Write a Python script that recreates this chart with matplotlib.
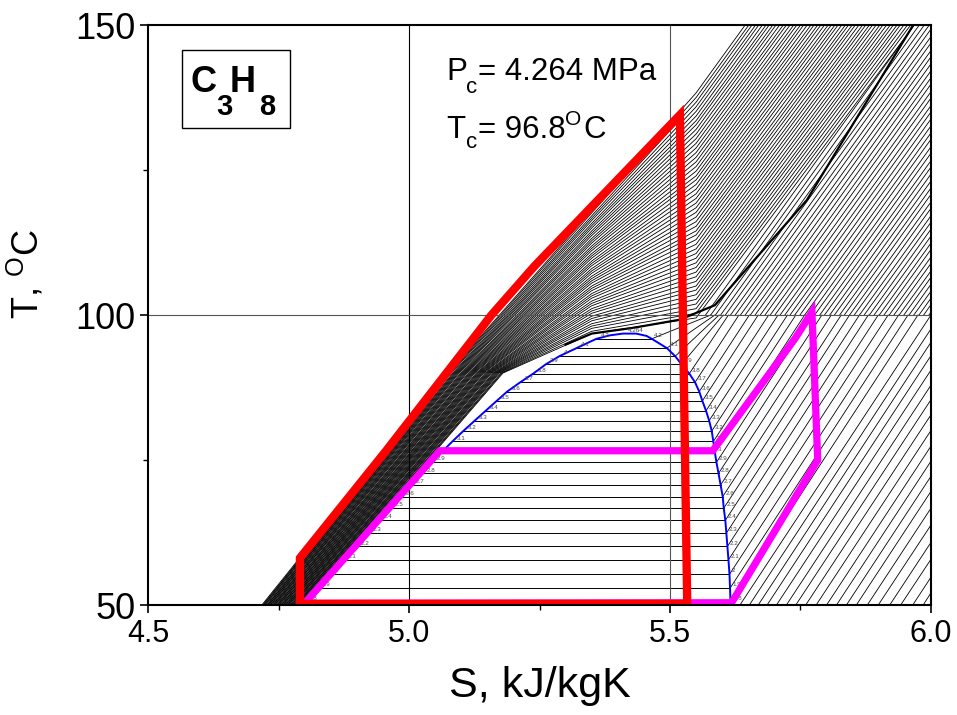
import numpy as np
import matplotlib
matplotlib.use('Agg')
import matplotlib.pyplot as plt
from matplotlib.ticker import MultipleLocator
from matplotlib.patches import Rectangle

plt.rcParams['font.family'] = ['Liberation Sans', 'DejaVu Sans']
plt.rcParams['mathtext.fontset'] = 'custom'
plt.rcParams['mathtext.rm'] = 'Liberation Sans'
plt.rcParams['mathtext.it'] = 'Liberation Sans'
plt.rcParams['mathtext.bf'] = 'Liberation Sans:bold'

# ---- saturation dome (pressure label, T, s liquid, s vapour) ----
sat_P = ['1.8', '1.9', '2', '2.1', '2.2', '2.3', '2.4', '2.5', '2.6', '2.7',
         '2.8', '2.9', '3', '3.1', '3.2', '3.3', '3.4', '3.5', '3.6', '3.7',
         '3.8', '3.9', '4', '4.1', '4.2']
sat_T = [50.5, 52.9, 55.3, 57.8, 60.1, 62.4, 64.6, 66.7, 68.7, 70.7,
         72.7, 74.6, 76.3, 78.2, 80.0, 81.8, 83.5, 85.2, 86.8, 88.4,
         89.9, 91.5, 92.9, 94.3, 95.9]
sat_sl = [4.800, 4.825, 4.850, 4.875, 4.900, 4.922, 4.944, 4.965, 4.985, 5.005,
          5.025, 5.044, 5.062, 5.083, 5.104, 5.126, 5.147, 5.168, 5.188, 5.213,
          5.238, 5.262, 5.288, 5.321, 5.359]
sat_sv = [5.616, 5.615, 5.614, 5.612, 5.610, 5.608, 5.606, 5.603, 5.601, 5.597,
          5.593, 5.589, 5.586, 5.583, 5.580, 5.575, 5.569, 5.562, 5.556, 5.548,
          5.537, 5.522, 5.510, 5.494, 5.465]
dome_top_s = [5.385, 5.410, 5.435, 5.455]
dome_top_T = [96.5, 96.8, 96.8, 96.4]
crit_label = '4.264'

# ---- low pressure vapour isobars: start on T=50, end on s=6.0 ----
v1_s_start = [5.634, 5.652, 5.669, 5.686, 5.704, 5.723, 5.741, 5.760, 5.780, 5.800,
              5.819, 5.838, 5.857, 5.878, 5.899, 5.921, 5.942, 5.965, 5.985]
v1_T_end = [100.0, 97.6, 95.3, 93.0, 90.5, 87.9, 85.4, 82.8, 80.1, 77.4,
            74.8, 72.2, 69.6, 66.7, 63.8, 60.8, 57.9, 54.8, 52.1]

# ---- vapour isobars leaving the dome, s where they reach T=100 ----
v2_s100 = [5.975, 5.956, 5.938, 5.918, 5.899, 5.880, 5.863, 5.844, 5.828, 5.809,
           5.791, 5.773, 5.758, 5.741, 5.725, 5.707, 5.689, 5.669, 5.652, 5.632,
           5.612, 5.602, 5.594, 5.586, 5.578]

# ---- isobars above 100 C: s at T=100, T at s=6.0 ----
b_s100 = [5.568, 5.578, 5.587, 5.597, 5.606, 5.616, 5.625, 5.635, 5.644, 5.654,
          5.663, 5.673, 5.682, 5.692, 5.701, 5.711, 5.720, 5.730, 5.739, 5.749,
          5.758, 5.768, 5.777, 5.787, 5.796, 5.806, 5.815, 5.825, 5.834, 5.844,
          5.853, 5.863, 5.872, 5.882, 5.891, 5.901, 5.910, 5.920, 5.929, 5.939,
          5.948, 5.958, 5.967, 5.977, 5.986, 5.996]
b_T600 = [154.0, 152.8, 151.6, 150.4, 149.3, 148.0, 146.9, 145.6, 144.5, 143.3,
          142.1, 140.9, 139.8, 138.5, 137.4, 136.1, 135.0, 133.8, 132.6, 131.4,
          130.3, 129.0, 127.9, 126.6, 125.5, 124.3, 123.1, 121.9, 120.8, 119.5,
          118.4, 117.1, 116.0, 114.8, 113.6, 112.4, 111.3, 110.0, 108.9, 107.6,
          106.5, 105.3, 104.1, 102.9, 101.8, 100.5]

# ---- supercritical isobars, outer (high P) to inner ----
sc_s50 = [4.718, 4.720, 4.721, 4.723, 4.724, 4.726, 4.728, 4.729, 4.731, 4.732,
          4.734, 4.735, 4.737, 4.739, 4.740, 4.742, 4.743, 4.745, 4.747, 4.748,
          4.750, 4.751, 4.753, 4.755, 4.756, 4.758, 4.759, 4.761, 4.763, 4.764,
          4.766, 4.767, 4.769, 4.770, 4.772, 4.774, 4.775, 4.777, 4.778, 4.780,
          4.782, 4.783, 4.785, 4.786, 4.788, 4.790, 4.791, 4.793, 4.794, 4.796]
sc_s90 = [5.075, 5.077, 5.079, 5.081, 5.084, 5.086, 5.088, 5.090, 5.092, 5.094,
          5.096, 5.099, 5.101, 5.103, 5.105, 5.107, 5.109, 5.111, 5.114, 5.116,
          5.118, 5.120, 5.122, 5.124, 5.126, 5.129, 5.131, 5.133, 5.135, 5.137,
          5.139, 5.141, 5.143, 5.146, 5.148, 5.150, 5.152, 5.154, 5.156, 5.158,
          5.161, 5.163, 5.165, 5.167, 5.169, 5.171, 5.173, 5.176, 5.178, 5.180]
sc_T535 = [118.0, 117.6, 117.1, 116.7, 116.3, 115.8, 115.4, 115.0, 114.5, 114.1,
           113.7, 113.2, 112.8, 112.4, 111.9, 111.5, 111.1, 110.6, 110.2, 109.8,
           109.3, 108.9, 108.5, 108.0, 107.6, 107.2, 106.7, 106.3, 105.9, 105.5,
           105.0, 104.6, 104.2, 103.7, 103.3, 102.9, 102.4, 102.0, 101.6, 101.1,
           100.7, 100.3, 99.8, 99.4, 99.0, 98.5, 98.1, 97.7, 97.2, 96.8]
sc_T555 = [138.3, 137.5, 136.7, 135.9, 135.1, 134.3, 133.5, 132.8, 132.0, 131.2,
           130.4, 129.6, 128.8, 128.0, 127.2, 126.4, 125.6, 124.8, 124.0, 123.3,
           122.5, 121.7, 120.9, 120.1, 119.3, 118.5, 117.7, 116.9, 116.1, 115.3,
           114.5, 113.8, 113.0, 112.2, 111.4, 110.6, 109.8, 109.0, 108.2, 107.4,
           106.6, 105.8, 105.0, 104.3, 103.5, 102.7, 101.9, 101.1, 100.3, 99.5]
sc_s150 = [5.644, 5.651, 5.657, 5.664, 5.670, 5.677, 5.684, 5.690, 5.697, 5.703,
           5.710, 5.717, 5.723, 5.730, 5.737, 5.743, 5.750, 5.756, 5.763, 5.770,
           5.776, 5.783, 5.789, 5.796, 5.803, 5.809, 5.816, 5.822, 5.829, 5.836,
           5.842, 5.849, 5.855, 5.862, 5.869, 5.875, 5.882, 5.888, 5.895, 5.902,
           5.908, 5.915, 5.922, 5.928, 5.935, 5.941, 5.948, 5.955, 5.961, 5.968]

# ---- critical isobar (thick) ----
crit_s = [5.300, 5.350, 5.430, 5.519, 5.586, 5.762, 5.966]
crit_T = [94.9, 96.8, 97.8, 99.2, 101.7, 119.8, 150.0]

# ---- cycles ----
red_s = [4.791, 4.791, 4.957, 5.158, 5.240, 5.519, 5.533, 4.791]
red_T = [50.2, 58.1, 76.7, 100.0, 108.4, 134.5, 50.2, 50.2]
mag_s = [4.800, 5.059, 5.582, 5.740, 5.772, 5.783, 5.618, 4.800]
mag_T = [50.3, 76.6, 76.6, 96.0, 100.5, 75.0, 50.4, 50.3]


def px(x, y):
    # figure pixel position -> axes fraction
    return (x - 148.0) / 783.0, (605.0 - y) / 580.0


def main():
    fig = plt.figure(figsize=(9.57, 7.15), dpi=100)
    ax = fig.add_axes([0.1547, 0.1538, 0.8181, 0.8112])
    thin = dict(color='k', lw=0.6, zorder=2)

    for s0, t1 in zip(v1_s_start, v1_T_end):
        ax.plot([s0, 6.0], [50.0, t1], **thin)

    for sv, ts, s1 in zip(sat_sv, sat_T, v2_s100):
        ax.plot([sv, s1], [ts, 100.0], **thin)

    for s0, t1 in zip(b_s100, b_T600):
        ax.plot([s0, 6.0], [100.0, t1], **thin)

    for i in range(len(sc_s50)):
        ss = [sc_s50[i], sc_s90[i], 5.35, 5.55, sc_s150[i]]
        tt = [50.0, 90.0, sc_T535[i], sc_T555[i], 150.0]
        ax.plot(ss, tt, **thin)

    ax.plot(crit_s, crit_T, color='k', lw=1.6, zorder=4)

    # two-phase horizontals and their labels
    for p, t, sl, sv in zip(sat_P, sat_T, sat_sl, sat_sv):
        ax.plot([sl, sv], [t, t], color='k', lw=0.7, zorder=2)
        ax.text(sl + 0.008, t + 0.15, p, fontsize=4.5, color='#444444',
                ha='left', va='bottom', zorder=5)
        ax.text(sv + 0.005, t + 0.15, p, fontsize=4.5, color='#444444',
                ha='left', va='bottom', zorder=5)
    ax.text(dome_top_s[2], dome_top_T[2] + 0.1, crit_label, fontsize=4.5,
            color='#444444', ha='center', va='bottom', zorder=5)

    dome_s = sat_sl + dome_top_s + sat_sv[::-1]
    dome_T = sat_T + dome_top_T + sat_T[::-1]
    ax.plot(dome_s, dome_T, color='#0000ff', lw=1.4, zorder=4)

    # grid lines at the inner major ticks
    ax.axvline(5.0, color='k', lw=0.8, zorder=3)
    ax.axvline(5.5, color='#555555', lw=0.8, zorder=3)
    ax.axhline(100, color='#555555', lw=0.8, zorder=3)

    ax.plot(mag_s, mag_T, color='#ff00ff', lw=5.2, zorder=6,
            solid_joinstyle='miter')
    ax.plot(red_s, red_T, color='#ff0000', lw=6.0, zorder=7,
            solid_joinstyle='miter')

    ax.set_xlim(4.5, 6.0)
    ax.set_ylim(50, 150)
    ax.xaxis.set_major_locator(MultipleLocator(0.5))
    ax.xaxis.set_minor_locator(MultipleLocator(0.25))
    ax.yaxis.set_major_locator(MultipleLocator(50))
    ax.yaxis.set_minor_locator(MultipleLocator(25))
    ax.xaxis.set_major_formatter(plt.FormatStrFormatter('%.1f'))
    ax.tick_params(which='major', direction='out', length=6, width=1.2, pad=4)
    ax.tick_params(axis='x', which='major', labelsize=22)
    ax.tick_params(axis='y', which='major', labelsize=26, pad=3)
    ax.tick_params(which='minor', direction='out', length=3.5, width=1.0)
    for sp in ax.spines.values():
        sp.set_linewidth(1.5)
        sp.set_zorder(10)

    ax.set_xlabel('S, kJ/kgK', fontsize=31, labelpad=12)
    ax.set_ylabel(r'T, $^{\mathrm{O}}$C', fontsize=26)
    ax.yaxis.set_label_coords(-0.13, 0.57)

    # formula box
    x0, y0 = px(182, 128)
    x1, y1 = px(290, 50)
    ax.add_patch(Rectangle((x0, y0), x1 - x0, y1 - y0, transform=ax.transAxes,
                           fc='white', ec='black', lw=1.0, zorder=11))
    nb = dict(transform=ax.transAxes, fontweight='bold', va='baseline',
              ha='left', zorder=12)
    ax.text(*px(190, 92), 'C', fontsize=26, **nb)
    ax.text(*px(216, 115), '3', fontsize=21, **nb)
    ax.text(*px(230, 92), 'H', fontsize=26, **nb)
    ax.text(*px(259, 115), '8', fontsize=21, **nb)

    tx = dict(transform=ax.transAxes, va='baseline', ha='left', zorder=12)
    ax.text(*px(446, 80), 'P', fontsize=22.5, **tx)
    ax.text(*px(466, 93), 'c', fontsize=16, **tx)
    ax.text(*px(478, 80), '= 4.264 MPa', fontsize=22.5, **tx)
    ax.text(*px(446, 138), 'T', fontsize=22.5, **tx)
    ax.text(*px(466, 148), 'c', fontsize=16, **tx)
    ax.text(*px(478, 138), '= 96.8', fontsize=22.5, **tx)
    ax.text(*px(565, 125), 'O', fontsize=15, **tx)
    ax.text(*px(583, 138), 'C', fontsize=22.5, **tx)

    fig.savefig('out.png', dpi=100)


if __name__ == "__main__":
    main()
